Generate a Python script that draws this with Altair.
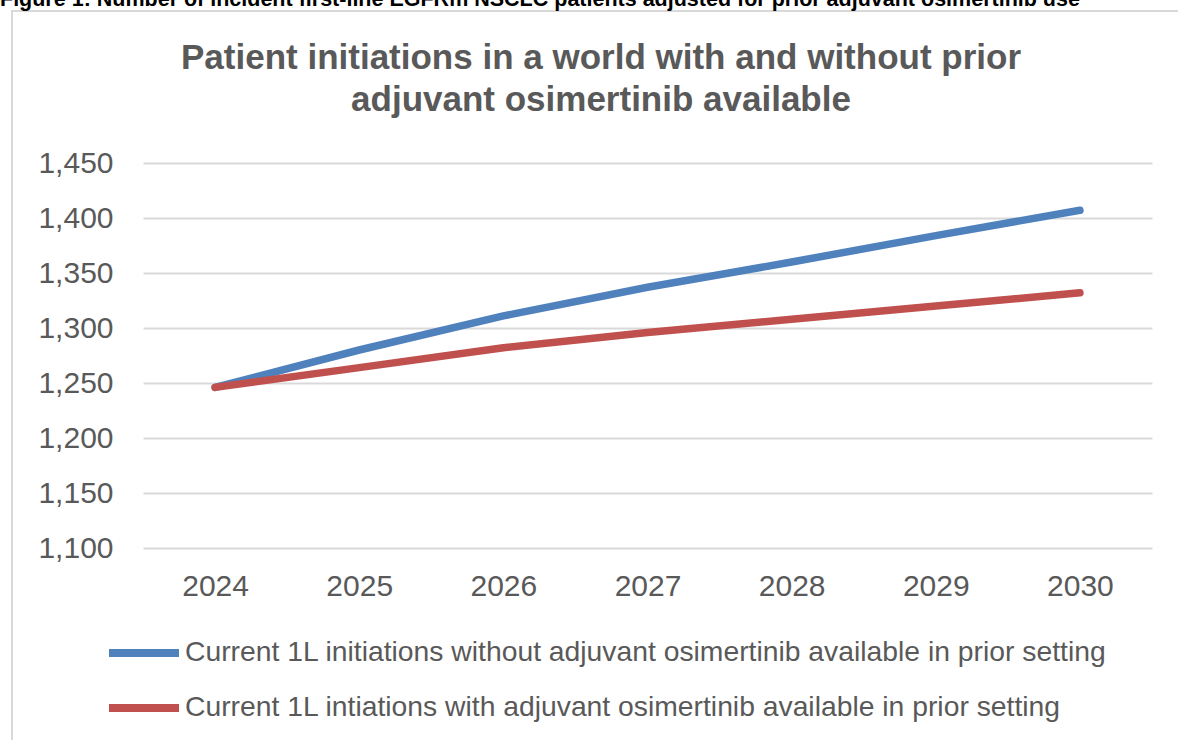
import altair as alt
import pandas as pd

years = ["2024", "2025", "2026", "2027", "2028", "2029", "2030"]
without_adj = [1246, 1280, 1311, 1337, 1360, 1384, 1407]
with_adj = [1246, 1264, 1282, 1296, 1308, 1320, 1332]
series_names = [
    "Current 1L initiations without adjuvant osimertinib available in prior setting",
    "Current 1L intiations with adjuvant osimertinib available in prior setting",
]
series_colors = ["#4F81BD", "#C0504D"]
y_ticks = [1100, 1150, 1200, 1250, 1300, 1350, 1400, 1450]
title_lines = [
    "Patient initiations in a world with and without prior",
    "adjuvant osimertinib available",
]
header_text = "Figure 1: Number of incident first-line EGFRm NSCLC patients adjusted for prior adjuvant osimertinib use"

rows = []
for name, vals in zip(series_names, [without_adj, with_adj]):
    for yr, v in zip(years, vals):
        rows.append({"Year": yr, "Patients": v, "Series": name})
df = pd.DataFrame(rows)

FONT = "Liberation Sans"
GREY = "#595959"
W, H = 1009, 385

border = alt.Chart(pd.DataFrame({"a": [0]})).mark_rect(
    fillOpacity=0, stroke="#d9d9d9", strokeWidth=2
).encode(
    x=alt.value(-131), x2=alt.value(1080), y=alt.value(-152), y2=alt.value(620)
)

header = alt.Chart(pd.DataFrame({"t": [header_text]})).mark_text(
    font=FONT, fontSize=21.5, fontWeight="bold", color="black",
    align="left", baseline="alphabetic"
).encode(text="t:N", x=alt.value(-143), y=alt.value(-157))

title1 = alt.Chart(pd.DataFrame({"t": [title_lines[0]]})).mark_text(
    font=FONT, fontSize=35, fontWeight="bold", color=GREY,
    align="center", baseline="alphabetic"
).encode(text="t:N", x=alt.value(458), y=alt.value(69 - 163))

title2 = alt.Chart(pd.DataFrame({"t": [title_lines[1]]})).mark_text(
    font=FONT, fontSize=35, fontWeight="bold", color=GREY,
    align="center", baseline="alphabetic"
).encode(text="t:N", x=alt.value(458), y=alt.value(111 - 163))

lines = alt.Chart(df).mark_line(
    strokeWidth=7.5, strokeCap="round", strokeJoin="round"
).encode(
    x=alt.X(
        "Year:O",
        sort=years,
        scale=alt.Scale(type="point", padding=0.5),
        axis=alt.Axis(
            title=None, labelAngle=0, labelFont=FONT, labelFontSize=30,
            labelColor=GREY, ticks=False, tickSize=0, domain=False,
            labelPadding=23, grid=False,
        ),
    ),
    y=alt.Y(
        "Patients:Q",
        scale=alt.Scale(domain=[1100, 1450], nice=False, zero=False),
        axis=alt.Axis(
            title=None, values=y_ticks, format=",d", labelFont=FONT,
            labelFontSize=30, labelColor=GREY, ticks=False, tickSize=0,
            domain=False, labelPadding=30, gridColor="#d9d9d9", gridWidth=2,
        ),
    ),
    color=alt.Color(
        "Series:N",
        sort=series_names,
        scale=alt.Scale(domain=series_names, range=series_colors),
        title=None,
        legend=alt.Legend(
            orient="none", legendX=-38, legendY=451, direction="vertical",
            symbolType="stroke", symbolSize=4900, symbolStrokeWidth=8,
            labelFont=FONT, labelFontSize=28.3, labelColor=GREY,
            labelLimit=0, labelOffset=2, rowPadding=-30,
        ),
    ),
)

chart = alt.layer(border, header, title1, title2, lines).properties(
    width=W, height=H,
    autosize=alt.AutoSizeParams(type="none"),
    padding={"left": 143, "top": 163, "right": 26, "bottom": 192},
    background="white",
).configure_view(stroke=None)

chart.save("out.html", embed_options={"renderer": "svg", "actions": False})
